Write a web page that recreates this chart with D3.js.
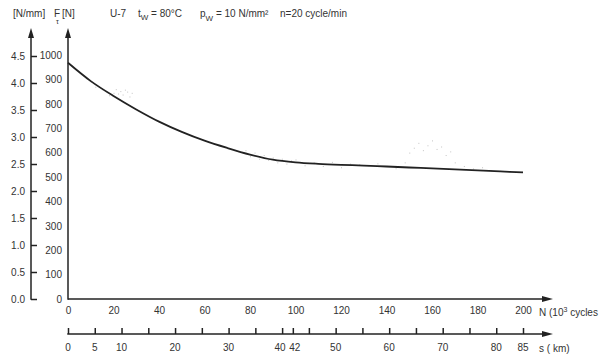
<!DOCTYPE html>
<html><head><meta charset="utf-8">
<script src="https://cdn.jsdelivr.net/npm/d3@7"></script>
<style>
body{margin:0;background:#fff;}
svg text{font-family:"Liberation Sans",Arial,sans-serif;font-size:10px;fill:#333;}
</style></head>
<body><svg id="c" width="600" height="356"></svg>
<script>
// ---- data ----
const cyclesK = [0,10,20,30,40,50,60,70,80,90,100,110,120,130,140,150,160,170,180,190,200];
const forceN  = [968,893,832,777,727,685,649,619,592,571,560,554,550,547,543,539,535,531,527,523,519];
const scatterN = [8,10,12,15,17,18,20,21,22,23,24,25,26,27,28, 78,80,82,84,86,88,90,92,94,96,98,100,104,108,112,116,120,124,128,132,136,140,144,148,150,152,154,156,158,160,162,164,166,168,170,174,178,182,186,190,194,198];
const scatterF = [905,892,870,860,850,835,845,860,842,852,838,858,850,830,845, 610,585,600,575,590,570,580,560,575,555,568,572,548,560,545,562,540,555,552,548,556,545,536,560,600,620,640,610,630,650,615,625,590,605,560,545,535,540,528,525,522,520];
const leftTicks = [0,0.5,1,1.5,2,2.5,3,3.5,4,4.5];
const forceTicks = [0,100,200,300,400,500,600,700,800,900,1000];
const nTicks = [0,20,40,60,80,100,120,140,160,180,200];
const sTicks = [0,5,10,15,20,25,30,35,40,42,45,50,55,60,65,70,75,80,85];
const sLabels = [0,5,10,20,30,40,42,50,60,70,80,85];

const svg = d3.select("#c");
const ink = "#222";
const x0 = 68, x1 = 523, yB = 299;
const xN = d3.scaleLinear().domain([0,200]).range([x0,x1]);
const xS = d3.scaleLinear().domain([0,85]).range([x0,x1]);
const yF = d3.scaleLinear().domain([0,1000]).range([yB,55]);
const yL = d3.scaleLinear().domain([0,4.5]).range([yB,56]);

function arrowUp(x,yTip){svg.append("path").attr("d",`M${x},${yTip} L${x-3},${yTip+10} L${x+3},${yTip+10} Z`).attr("fill",ink);}
function arrowRight(xTip,y){svg.append("path").attr("d",`M${xTip},${y} L${xTip-11},${y-3} L${xTip-11},${y+3} Z`).attr("fill",ink);}
function styleText(g){g.selectAll("text").attr("fill","#333").style("font-size","10px").style("font-family","Liberation Sans, Arial, sans-serif");}

// left axis
const gL = svg.append("g").attr("transform",`translate(31,0)`)
  .call(d3.axisLeft(yL).tickValues(leftTicks).tickSizeInner(-6).tickSizeOuter(0).tickPadding(6).tickFormat(d3.format(".1f")));
gL.select(".domain").remove();
gL.selectAll(".tick line").attr("stroke",ink).attr("stroke-width",1.5);
styleText(gL);
svg.append("line").attr("x1",31).attr("x2",31).attr("y1",yB+0.75).attr("y2",32).attr("stroke",ink).attr("stroke-width",1.5);
arrowUp(31,28);

// force axis
const gF = svg.append("g").attr("transform",`translate(${x0},0)`)
  .call(d3.axisLeft(yF).tickValues(forceTicks).tickSize(0).tickPadding(6).tickFormat(d3.format("d")));
gF.select(".domain").remove();
styleText(gF);
svg.append("line").attr("x1",x0).attr("x2",x0).attr("y1",yB+0.75).attr("y2",32).attr("stroke",ink).attr("stroke-width",1.5);
arrowUp(x0,28);

// N axis
const gN = svg.append("g").attr("transform",`translate(0,${yB})`)
  .call(d3.axisBottom(xN).tickValues(nTicks).tickSize(0).tickPadding(8));
gN.select(".domain").remove();
styleText(gN);
svg.append("line").attr("x1",x0).attr("x2",545).attr("y1",yB).attr("y2",yB).attr("stroke",ink).attr("stroke-width",1.5);
arrowRight(553,yB);
svg.append("text").attr("x",539).attr("y",316).html("N (10<tspan font-size='7' dy='-4'>3</tspan><tspan dy='4'> cycles</tspan>");

// s axis
const yS = 334;
const gS = svg.append("g").attr("transform",`translate(0,${yS})`)
  .call(d3.axisTop(xS).tickValues(sTicks).tickSize(6).tickFormat(""));
gS.select(".domain").remove();
gS.selectAll(".tick line").attr("stroke",ink).attr("stroke-width",1.5);
svg.append("line").attr("x1",x0-0.75).attr("x2",545).attr("y1",yS).attr("y2",yS).attr("stroke",ink).attr("stroke-width",1.5);
arrowRight(553,yS);
svg.append("g").selectAll("text").data(sLabels).join("text")
  .attr("x",d=>xS(d)+(d===40?-2:d===42?2:0)).attr("y",351).attr("text-anchor","middle").text(d=>d);
svg.append("text").attr("x",539).attr("y",352).text("s ( km)");

// scatter
svg.append("g").selectAll("rect").data(scatterN.map((n,i)=>[n,scatterF[i]])).join("rect")
  .attr("x",d=>xN(d[0])).attr("y",d=>yF(d[1])).attr("width",1).attr("height",1).attr("fill","#c4c4c4");

// curve
svg.append("path").datum(cyclesK.map((n,i)=>[n,forceN[i]]))
  .attr("d",d3.line().x(d=>xN(d[0])).y(d=>yF(d[1])).curve(d3.curveCatmullRom.alpha(0.5)))
  .attr("fill","none").attr("stroke",ink).attr("stroke-width",1.8);

// header
const hy = 17;
svg.append("text").attr("x",13).attr("y",hy).text("[N/mm]");
svg.append("text").attr("x",54).attr("y",hy).text("F");
svg.append("text").attr("x",56).attr("y",hy+7).style("font-size","7px").text("τ");
svg.append("text").attr("x",62).attr("y",hy).text("[N]");
svg.append("text").attr("x",110).attr("y",hy).text("U-7");
svg.append("text").attr("x",138).attr("y",hy).html("t<tspan font-size='8' dy='3'>W</tspan><tspan dy='-3'> = 80°C</tspan>");
svg.append("text").attr("x",200).attr("y",hy).html("p<tspan font-size='8' dy='4'>W</tspan><tspan dy='-4'> = 10 N/mm²</tspan>");
svg.append("text").attr("x",280).attr("y",hy).text("n=20 cycle/min");
</script></body></html>
